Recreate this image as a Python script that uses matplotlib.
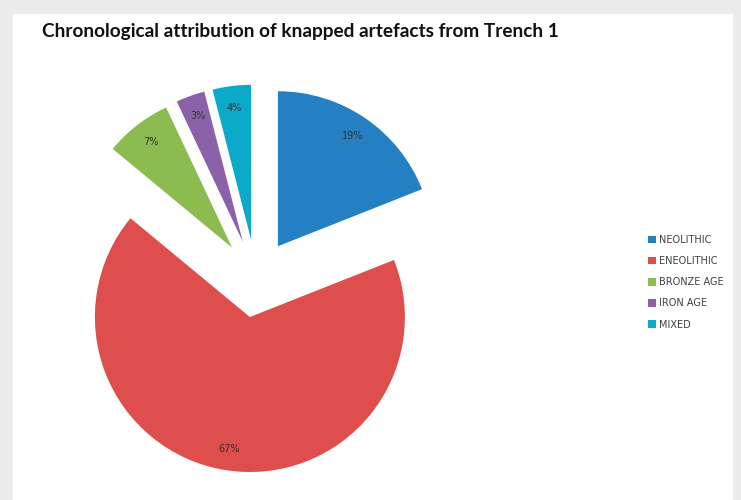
import matplotlib
matplotlib.use("Agg")
import matplotlib.pyplot as plt
from matplotlib.patches import Rectangle, Patch

periods = ["NEOLITHIC", "ENEOLITHIC", "BRONZE AGE", "IRON AGE", "MIXED"]
shares = [19, 67, 7, 3, 4]
colors = ["#2580c3", "#dd4e4c", "#8cbc4f", "#8b62a9", "#0aaac8"]

fig = plt.figure(figsize=(7.41, 5.0), dpi=100, facecolor="#ececec")
ax = fig.add_axes([0, 0, 1, 1])

# white chart area
ax.add_patch(Rectangle((13, 0), 720, 486, facecolor="white", edgecolor="none", zorder=0))

# pie drawn in pixel units, so explode is an absolute offset
wedges, texts, autotexts = ax.pie(
    shares, colors=colors, startangle=90, counterclock=False,
    explode=[39] * len(shares), radius=155, center=(256, 221.5),
    autopct="%d%%", pctdistance=0.86,
    textprops=dict(fontsize=7, color="#333333"),
    wedgeprops=dict(linewidth=0))
for w in wedges:
    w.set_zorder(2)
for t in autotexts:
    t.set_zorder(3)

ax.set_xlim(0, 741)
ax.set_ylim(0, 500)
ax.set_aspect("equal")
ax.axis("off")

handles = [Patch(facecolor=c, edgecolor="none") for c in colors]
leg = ax.legend(handles, periods, loc="upper left", bbox_to_anchor=(643 / 741, 1 - 230 / 500),
                frameon=False, fontsize=7, handlelength=0.8, handleheight=0.8,
                handletextpad=0.3, labelspacing=1.15, borderpad=0)
for t in leg.get_texts():
    t.set_color("#404040")

fig.text(42 / 741, 1 - 31 / 500, "Chronological attribution of knapped artefacts from Trench 1",
         fontsize=13.7, fontweight="bold", family="Lato", va="center", ha="left", color="#111111")

fig.savefig("out.png", dpi=100, facecolor=fig.get_facecolor())
